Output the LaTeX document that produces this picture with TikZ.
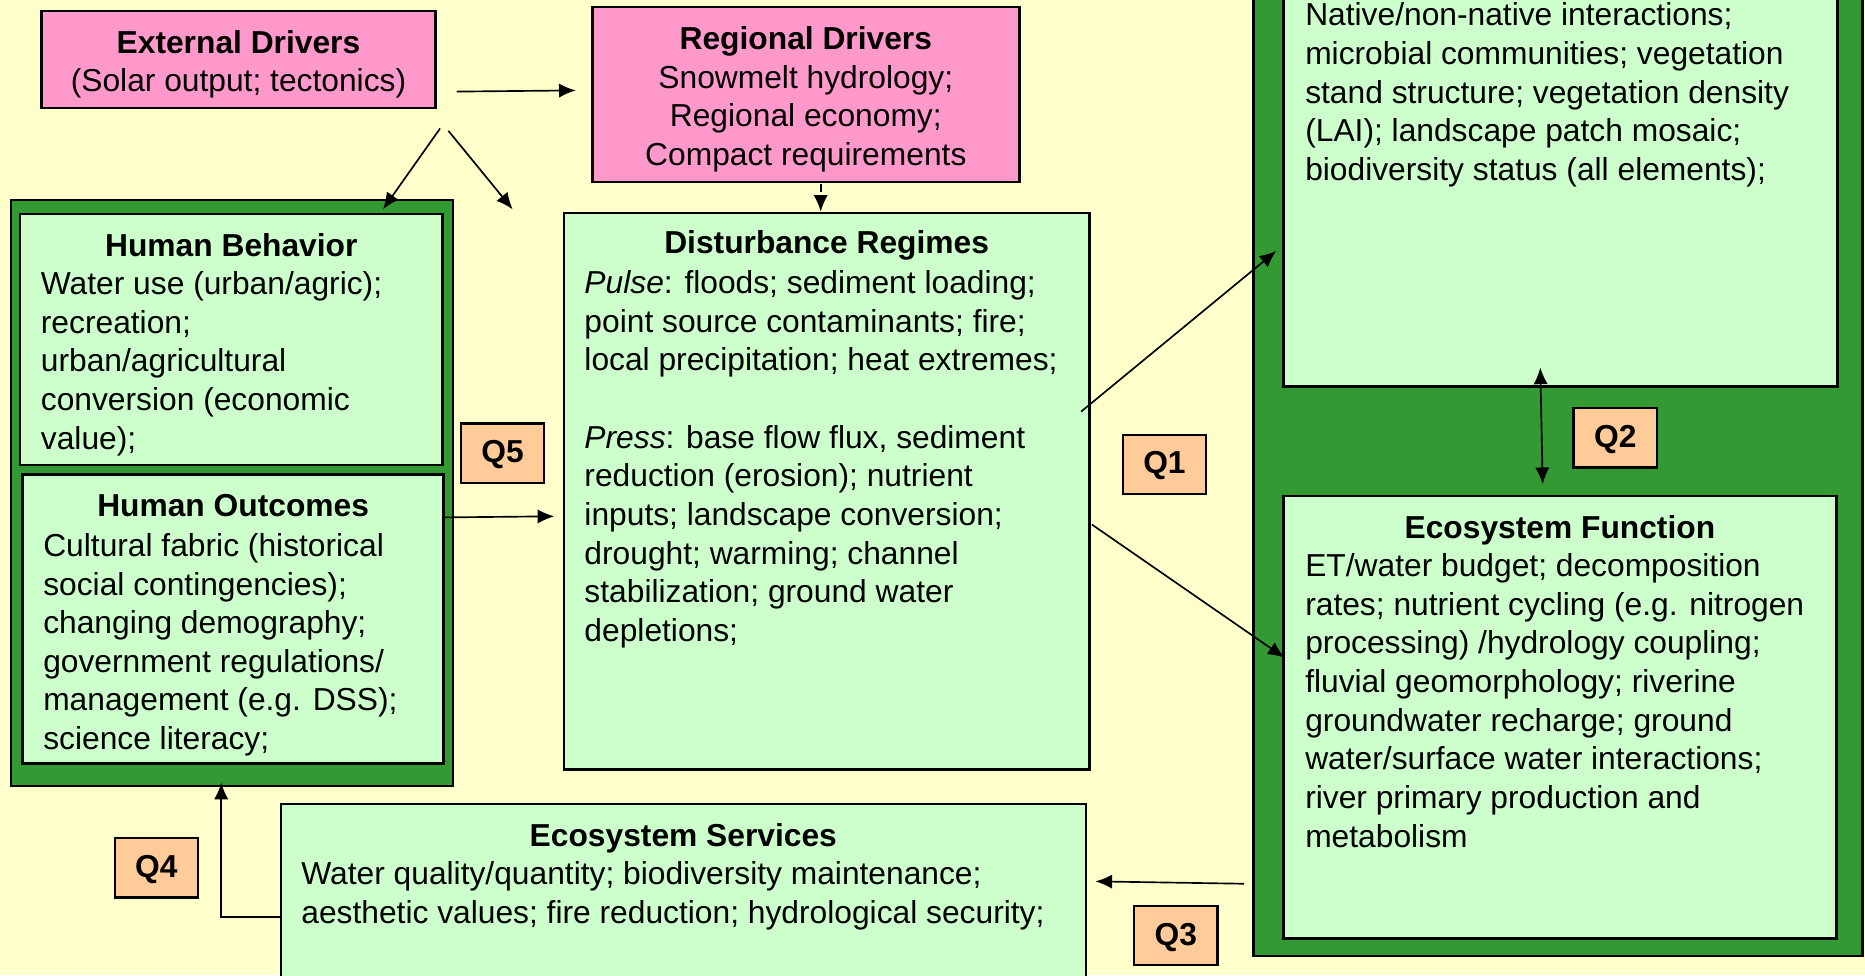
\documentclass[tikz,border=0pt]{standalone}
\usepackage{fontspec}
\setmainfont{Liberation Sans}
\usetikzlibrary{arrows.meta,fit,positioning}

\definecolor{paleyellow}{HTML}{FFFFCC}
\definecolor{mint}{HTML}{CCFFCC}
\definecolor{pinkish}{HTML}{FF99CC}
\definecolor{leafgreen}{HTML}{339933}
\definecolor{peach}{HTML}{FFCC99}

\newcommand{\diagfont}{\fontsize{13.35pt}{16.25pt}\selectfont}

\tikzset{
  every node/.style={font=\diagfont},
  boxline/.style={draw=black, line width=1pt, inner sep=0pt},
  panel/.style={boxline, fill=mint},
  driver/.style={boxline, fill=pinkish},
  holder/.style={boxline, fill=leafgreen},
  qbox/.style={boxline, fill=peach, font=\diagfont\bfseries,
    minimum width=35pt, minimum height=25pt, text height=0.8em, text depth=0pt},
  heading/.style={anchor=base, inner sep=0pt, font=\diagfont\bfseries},
  body/.style={anchor=north west, inner sep=0pt, align=left},
  centred/.style={anchor=north, inner sep=0pt, align=center},
  link/.style={line width=0.7pt, >={Latex[length=7pt,width=6pt]}},
}

\begin{document}
\begin{tikzpicture}[x=0.5pt,y=-0.5pt]
  \clip (0,0) rectangle (1568,820);
  \fill[paleyellow] (0,0) rectangle (1568,820);

  % drivers
  \node[driver, fit={(35,9) (366,91)}] (ed) {};
  \node[centred] (ed-text) at (ed.north |- 0,25)
    {\textbf{External Drivers}\\(Solar output; tectonics)};
  \node[driver, fit={(498,6) (857,153)}] (rd) {};
  \node[centred] (rd-text) at (rd.north |- 0,22)
    {\textbf{Regional Drivers}\\Snowmelt hydrology;\\Regional economy;\\Compact requirements};

  % human side
  \node[holder, fit={(9,168) (381,661)}] (hum) {};
  \node[panel, fit={(17,180) (372,391)}] (hb) {};
  \node[panel, fit={(19,399) (373,642)}] (ho) {};
  \node[heading] (hb-title) at (hb.north |- 0,215.5) {Human Behavior};
  \node[body] (hb-text) at (34,228)
    {Water use (urban/agric);\\recreation;\\urban/agricultural\\conversion (economic\\value);};
  \node[heading] (ho-title) at (ho.north |- 0,434.5) {Human Outcomes};
  \node[body] (ho-text) at (36,448)
    {Cultural fabric (historical\\social contingencies);\\changing demography;\\government regulations/\\management (e.g. DSS);\\science literacy;};

  % disturbance
  \node[panel, fit={(474,179) (916,647)}] (dist) {};
  \node[heading] (dist-title) at (dist.north |- 0,213.5) {Disturbance Regimes};
  \node[body] (dist-text) at (491,227)
    {{\itshape Pulse}: floods; sediment loading;\\point source contaminants; fire;\\local precipitation; heat extremes;\\[16.25pt]
     {\itshape Press}: base flow flux, sediment\\reduction (erosion); nutrient\\inputs; landscape conversion;\\drought; warming; channel\\stabilization; ground water\\depletions;};

  % ecosystem side
  \node[holder, fit={(1054,-40) (1566,804)}] (eco) {};
  \node[panel, fit={(1079,-40) (1545,325)}] (struct) {};
  \node[body] (struct-text) at (1097,2)
    {Native/non-native interactions;\\microbial communities; vegetation\\stand structure; vegetation density\\(LAI); landscape patch mosaic;\\biodiversity status (all elements);};
  \node[panel, fit={(1079,417) (1544,789)}] (ef) {};
  \node[heading] (ef-title) at (ef.north |- 0,452.5) {Ecosystem Function};
  \node[body] (ef-text) at (1097,465)
    {ET/water budget; decomposition\\rates; nutrient cycling (e.g. nitrogen\\processing) /hydrology coupling;\\fluvial geomorphology; riverine\\groundwater recharge; ground\\water/surface water interactions;\\river primary production and\\metabolism};

  % services
  \node[panel, fit={(236,676) (913,860)}] (es) {};
  \node[heading] (es-title) at (es.north |- 0,711.5) {Ecosystem Services};
  \node[body] (es-text) at (253,724)
    {Water quality/quantity; biodiversity maintenance;\\aesthetic values; fire reduction; hydrological security;};

  % questions
  \node[qbox] (q1) at (979,390.5) {Q1};
  \node[qbox] (q2) at (1358,368) {Q2};
  \node[qbox] (q3) at (988.5,786.5) {Q3};
  \node[qbox] (q4) at (131.5,729.5) {Q4};
  \node[qbox] (q5) at (422.5,381) {Q5};

  % arrow ends
  \coordinate (ed-out) at (384,77);
  \coordinate (rd-in) at (484,76);
  \coordinate (ed-down) at (370,108);
  \coordinate (hum-in) at (322,176);
  \coordinate (ed-down2) at (377,110);
  \coordinate (dist-in) at (431,176);
  \coordinate (rd-foot) at (690,155);
  \coordinate (dist-out) at (909,346);
  \coordinate (struct-in) at (1073,211);
  \coordinate (dist-out2) at (918,441);
  \coordinate (ef-in) at (1080,553);
  \coordinate (struct-foot) at (1295,309);
  \coordinate (ef-head) at (1297,407);
  \coordinate (ef-out) at (1046,743);
  \coordinate (es-in) at (921,741);
  \coordinate (hum-foot) at (186,658);

  \draw[link,->] (ed-out) -- (rd-in);
  \draw[link,->] (ed-down) -- (hum-in);
  \draw[link,->] (ed-down2) -- (dist-in);
  \draw[link,->,dash pattern=on 3pt off 2pt] (rd-foot) -- (rd-foot |- dist.north);
  \draw[link,->,shorten >=3.5pt] (ho.east |- 0,435) -- (dist.west |- 0,434);
  \draw[link,->] (dist-out) -- (struct-in);
  \draw[link,->] (dist-out2) -- (ef-in);
  \draw[link,<->] (struct-foot) -- (ef-head);
  \draw[link,->] (ef-out) -- (es-in);
  \draw[link,->] (es.west |- 0,771) -| (hum-foot);
\end{tikzpicture}
\end{document}
